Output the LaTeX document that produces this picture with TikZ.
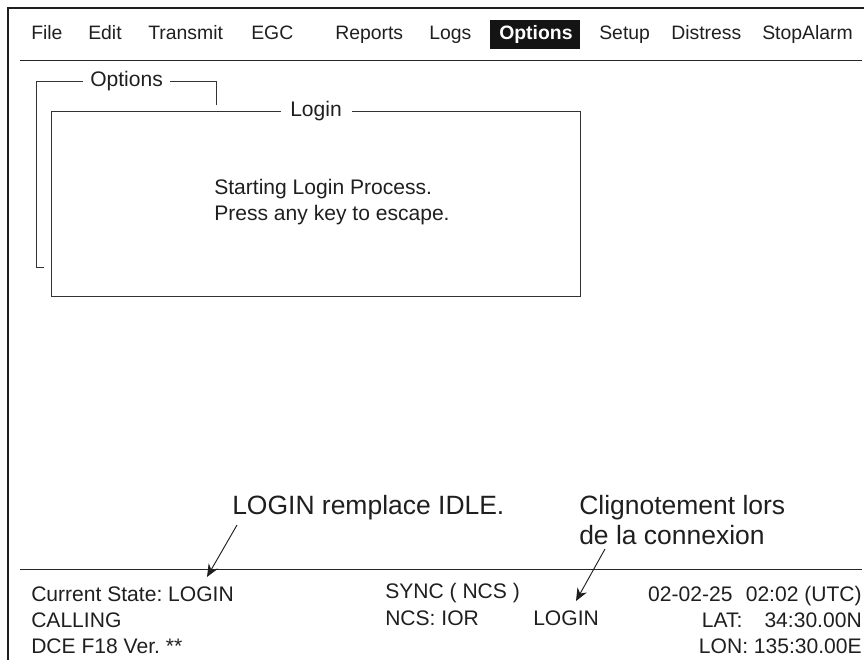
\documentclass[tikz,border=0pt]{standalone}
\usepackage{fontspec}
\setmainfont{Liberation Sans}
\usetikzlibrary{arrows.meta}
\tikzset{
  x=0.75pt,y=-0.75pt,
  frameline/.style={line width=2pt,color=black!88},
  rule/.style={line width=0.8pt,color=black!85},
  boxline/.style={line width=0.8pt,color=black!80},
  txt/.style={inner sep=0pt,anchor=base west,text=black!88,font=\frenchspacing\fontsize{15.8}{19}\selectfont},
  menu/.style={inner sep=0pt,anchor=base west,text=black!88,font=\frenchspacing\fontsize{14.55}{17}\selectfont},
  big/.style={inner sep=0pt,anchor=base west,text=black!88,font=\frenchspacing\fontsize{19.85}{24}\selectfont},
  pointer/.style={line width=0.7pt,color=black!88,-{Stealth[length=9.5pt,width=8pt]}},
}
\begin{document}
\begin{tikzpicture}
\useasboundingbox (0,0) rectangle (864,660);
\draw[frameline] (8,660) -- (8,8) -- (864,8);
\draw[rule] (20,60.5) -- (862,60.5);
\draw[rule] (20,569.5) -- (862,569.5);
% menu
\node[menu] (mfile) at (31,40) {File};
\node[menu] (medit) at (88,40) {Edit};
\node[menu] (mtrans) at (148,40) {Transmit};
\node[menu] (megc) at (251,40) {EGC};
\node[menu] (mrep) at (335,40) {Reports};
\node[menu] (mlogs) at (429,40) {Logs};
\fill[black!92] (490,20) rectangle (580,49);
\node[menu,text=white,font=\fontsize{14.55}{17}\selectfont\bfseries] (mopt) at (499,40) {Options};
\node[menu] (mset) at (599,40) {Setup};
\node[menu] (mdis) at (671,40) {Distress};
\node[menu] (mstop) at (762,40) {StopAlarm};
% options box
\node[txt] (optt) at (90,87) {Options};
\draw[boxline] (44,267.5) -- (36.5,267.5) -- (36.5,81.5) -- (83,81.5);
\draw[boxline] (170,81.5) -- (216.5,81.5) -- (216.5,105);
% login box
\node[txt] (logt) at (290,117) {Login};
\draw[boxline] (281,111.5) -- (51.5,111.5) -- (51.5,296.5) -- (580.5,296.5) -- (580.5,111.5) -- (352,111.5);
\node[txt] (l1) at (214,194) {Starting Login Process.};
\node[txt] (l2) at (214,220) {Press any key to escape.};
% annotations
\node[big] (a1) at (232,514) {LOGIN remplace IDLE.};
\node[big] (a2) at (579,514) {Clignotement lors};
\node[big] (a3) at (579,544) {de la connexion};
% status
\node[txt] (s1) at (31,601) {Current State: LOGIN};
\node[txt] (s2) at (31,627) {CALLING};
\node[txt] (s3) at (31,653) {DCE F18 Ver. **};
\node[txt] (s4) at (385,598) {SYNC ( NCS )};
\node[txt] (s5) at (385,625) {NCS: IOR};
\node[txt] (s6) at (533,625) {LOGIN};
\node[txt,anchor=base east] (s7) at (862,601) {02-02-25\hspace{10pt}02:02 (UTC)};
\node[txt,anchor=base east] (s8) at (862,627) {LAT:\hspace{16.5pt}34:30.00N};
\node[txt,anchor=base east] (s9) at (862,653) {LON: 135:30.00E};
% pointers
\coordinate (p1a) at (237,525);
\coordinate (p1b) at (207,577);
\coordinate (p2a) at (605,549);
\coordinate (p2b) at (576,601);
\draw[pointer] (p1a) -- (p1b);
\draw[pointer] (p2a) -- (p2b);
\end{tikzpicture}
\end{document}
